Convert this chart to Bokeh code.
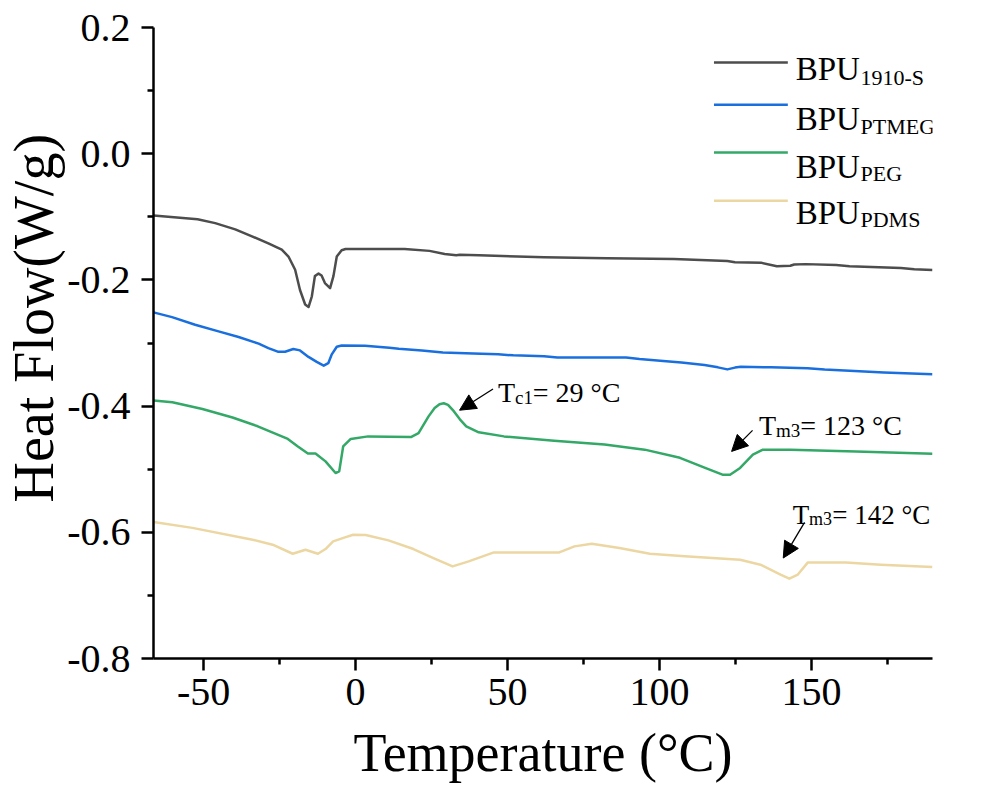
from bokeh.plotting import figure
from bokeh.models import Range1d, FixedTicker, PrintfTickFormatter, Label, Arrow, NormalHead, Title
from bokeh.embed import file_html
from bokeh.resources import INLINE

# ---------------- data ----------------
series_names = ["BPU", "BPU", "BPU", "BPU"]
series_subs = ["1910-S", "PTMEG", "PEG", "PDMS"]
series_colors = ["#4d4d4d", "#1a6fdf", "#33a867", "#ecd7a3"]

temp_1910s = [-66.5, -58.8, -52.0, -46.2, -39.6, -34.1, -28.7, -24.3, -22.1, -19.9,
              -18.3, -16.6, -15.5, -14.4, -13.4, -12.2, -11.2, -10.1, -8.4, -7.3,
              -6.2, -4.6, -3.3, 16.1, 24.3, 29.3, 33.1, 34.3, 40.6, 53.2,
              62.0, 82.7, 104.7, 122.3, 124.8, 133.6, 138.6, 143.0, 144.3, 148.1,
              158.1, 162.5, 179.4, 183.8, 189.8]
hf_1910s = [-0.098, -0.101, -0.104, -0.110, -0.120, -0.131, -0.142, -0.152, -0.163, -0.184,
            -0.216, -0.239, -0.243, -0.226, -0.194, -0.190, -0.193, -0.205, -0.213, -0.194,
            -0.163, -0.153, -0.151, -0.151, -0.154, -0.159, -0.161, -0.160, -0.161, -0.163,
            -0.164, -0.1655, -0.167, -0.170, -0.172, -0.173, -0.1785, -0.1775, -0.1755, -0.175,
            -0.1765, -0.1785, -0.181, -0.183, -0.1845]

temp_ptmeg = [-66.5, -60.4, -52.8, -45.1, -38.5, -31.9, -28.7, -25.4, -23.2, -20.5,
              -18.3, -15.5, -12.8, -10.5, -9.0, -7.9, -6.2, -4.6, 3.1, 11.1,
              14.2, 21.8, 28.7, 38.7, 46.9, 51.9, 62.0, 66.4, 89.0, 93.4,
              102.2, 107.2, 114.8, 119.2, 122.3, 124.8, 126.7, 136.7, 148.7, 154.3,
              162.5, 173.8, 180.7, 189.8]
hf_ptmeg = [-0.2515, -0.259, -0.271, -0.2816, -0.2905, -0.301, -0.308, -0.314, -0.3138, -0.3095,
            -0.3117, -0.322, -0.330, -0.336, -0.332, -0.3185, -0.306, -0.304, -0.3043, -0.3075,
            -0.309, -0.3117, -0.3149, -0.3165, -0.318, -0.3196, -0.321, -0.3228, -0.3228, -0.3254,
            -0.329, -0.331, -0.335, -0.3386, -0.3418, -0.339, -0.3376, -0.3386, -0.340, -0.342,
            -0.344, -0.3466, -0.348, -0.3497]

temp_peg = [-66.5, -60.3, -50.4, -40.5, -32.2, -22.3, -19.0, -15.7, -13.2, -9.9,
            -6.6, -5.4, -4.1, -1.6, 4.1, 18.2, 20.7, 24.0, 26.0, 27.6,
            29.0, 30.4, 32.3, 34.3, 36.4, 40.5, 48.8, 65.3, 81.9, 95.1,
            106.7, 115.0, 120.7, 123.2, 126.5, 130.7, 134.0, 143.1, 164.6, 189.8]
hf_peg = [-0.391, -0.394, -0.4046, -0.418, -0.432, -0.452, -0.464, -0.475, -0.475, -0.4876,
          -0.506, -0.5035, -0.464, -0.452, -0.448, -0.449, -0.4427, -0.4163, -0.403, -0.397,
          -0.3955, -0.398, -0.408, -0.421, -0.432, -0.4416, -0.448, -0.4548, -0.461, -0.469,
          -0.482, -0.498, -0.5087, -0.5087, -0.498, -0.477, -0.469, -0.469, -0.4718, -0.4754]

temp_pdms = [-66.5, -53.7, -33.9, -27.3, -20.7, -16.5, -12.4, -9.9, -7.4, -3.5,
             -0.8, 3.3, 10.8, 19.0, 25.6, 31.9, 37.2, 45.5, 67.0, 72.0,
             77.7, 86.8, 96.8, 108.3, 126.5, 133.2, 139.8, 142.7, 145.5, 148.8,
             161.3, 172.8, 189.8]
hf_pdms = [-0.5837, -0.593, -0.6117, -0.6197, -0.634, -0.6276, -0.634, -0.6265, -0.6144, -0.608,
           -0.6038, -0.6043, -0.6128, -0.6265, -0.6408, -0.654, -0.646, -0.6319, -0.6319, -0.6223,
           -0.618, -0.625, -0.634, -0.638, -0.6434, -0.6513, -0.667, -0.6735, -0.667, -0.6477,
           -0.6477, -0.6513, -0.655]

x_ticks = [-50, 0, 50, 100, 150]
x_minor = [-25, 25, 75, 125, 175]
y_ticks = [-0.8, -0.6, -0.4, -0.2, 0.0, 0.2]
y_minor = [-0.7, -0.5, -0.3, -0.1, 0.1]

x_title = "Temperature (\u00b0C)"
y_title = "Heat Flow(W/g)"

ann_main = ["T", "T", "T"]
ann_subs = ["c1", "m3", "m3"]
ann_rest = ["= 29 \u00b0C", "= 123 \u00b0C", "= 142 \u00b0C"]

# ---------------- figure ----------------
FONT = "Liberation Serif"
p = figure(width=966, height=786, output_backend="svg", toolbar_location=None,
           x_range=Range1d(-66.5, 189.8), y_range=Range1d(-0.8, 0.2),
           min_border_left=152, min_border_right=34, min_border_top=27, min_border_bottom=128)
p.outline_line_color = None
p.grid.visible = False
p.background_fill_color = "white"
p.border_fill_color = "white"

p.xaxis.ticker = FixedTicker(ticks=x_ticks, minor_ticks=x_minor)
p.yaxis.ticker = FixedTicker(ticks=y_ticks, minor_ticks=y_minor)
p.xaxis.formatter = PrintfTickFormatter(format="%d")
p.yaxis.formatter = PrintfTickFormatter(format="%.1f")
for ax in (p.xaxis[0], p.yaxis[0]):
    ax.axis_line_width = 2.5
    ax.axis_line_color = "black"
    ax.major_tick_line_width = 2.5
    ax.minor_tick_line_width = 2.5
    ax.major_tick_line_color = "black"
    ax.minor_tick_line_color = "black"
    ax.major_tick_out = 12
    ax.major_tick_in = 0
    ax.minor_tick_out = 6
    ax.minor_tick_in = 0
    ax.major_label_text_font = FONT
    ax.major_label_text_font_size = "40px"
    ax.major_label_text_color = "black"
    ax.axis_label_text_font = FONT
    ax.axis_label_text_font_style = "normal"
    ax.axis_label_text_color = "black"
p.xaxis.major_label_standoff = 8
p.yaxis.major_label_standoff = 11
p.xaxis.axis_label = x_title
p.xaxis.axis_label_text_font_size = "54px"
p.xaxis.axis_label_standoff = 15

# y title as a side title so it can be shifted upward like the reference
p.add_layout(Title(text=y_title, align="left", offset=156, standoff=0,
                   text_font=FONT, text_font_size="56px", text_font_style="normal",
                   text_color="black"), "left")

series = [(temp_1910s, hf_1910s), (temp_ptmeg, hf_ptmeg), (temp_peg, hf_peg), (temp_pdms, hf_pdms)]
for (tx, hy), col in zip(series, series_colors):
    p.line(tx, hy, line_color=col, line_width=2.5, line_join="round")

# legend (drawn manually to allow subscripts)
leg_line_x0, leg_line_x1 = 117.9, 142.2
leg_line_y = [0.1447, 0.0777, 0.002, -0.0745]
leg_txt_x, leg_sub_x = 144.8, 166.1
leg_txt_y = [0.1342, 0.055, -0.0211, -0.094]
leg_sub_y = [0.120, 0.0433, -0.0306, -0.1046]
for i in range(4):
    p.segment(x0=[leg_line_x0], y0=[leg_line_y[i]], x1=[leg_line_x1], y1=[leg_line_y[i]],
              line_color=series_colors[i], line_width=2.5)
    p.add_layout(Label(x=leg_txt_x, y=leg_txt_y[i], text=series_names[i], text_font=FONT,
                       text_font_size="33px", text_baseline="alphabetic", text_color="black"))
    p.add_layout(Label(x=leg_sub_x, y=leg_sub_y[i], text=series_subs[i], text_font=FONT,
                       text_font_size="22px", text_baseline="alphabetic", text_color="black"))

# annotations
ann_size = ["28px", "28px", "27px"]
ann_sub_size = ["19px", "19px", "18px"]
ann_x = [46.86, 132.7, 143.8]
ann_y = [-0.3788, -0.431, -0.572]
ann_sub_x = [52.46, 138.3, 149.2]
ann_sub_y = [-0.3867, -0.4385, -0.5796]
ann_rest_x = [58.27, 146.3, 156.8]
arrow_from = [(45.2, -0.373), (130.6, -0.4385), (147.7, -0.5843)]
arrow_to = [(34.2, -0.4065), (123.7, -0.4718), (140.7, -0.6408)]
for i in range(3):
    p.add_layout(Label(x=ann_x[i], y=ann_y[i], text=ann_main[i], text_font=FONT,
                       text_font_size=ann_size[i], text_baseline="alphabetic", text_color="black"))
    p.add_layout(Label(x=ann_sub_x[i], y=ann_sub_y[i], text=ann_subs[i], text_font=FONT,
                       text_font_size=ann_sub_size[i], text_baseline="alphabetic", text_color="black"))
    p.add_layout(Label(x=ann_rest_x[i], y=ann_y[i], text=ann_rest[i], text_font=FONT,
                       text_font_size=ann_size[i], text_baseline="alphabetic", text_color="black"))
    p.add_layout(Arrow(end=NormalHead(size=16, fill_color="black", line_color="black"),
                       x_start=arrow_from[i][0], y_start=arrow_from[i][1],
                       x_end=arrow_to[i][0], y_end=arrow_to[i][1],
                       line_color="black", line_width=1.3))

open("out.html", "w").write(file_html(p, INLINE))
